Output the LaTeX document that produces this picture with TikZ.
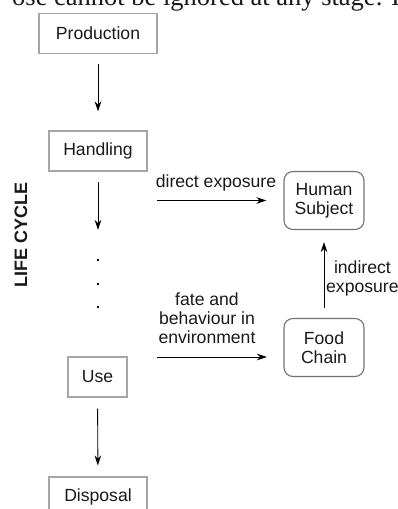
\documentclass[tikz,border=0pt]{standalone}
\usepackage{fontspec}
\setmainfont{Liberation Sans}
\newfontfamily\bodyserif{Liberation Serif}
\usepackage{tikz}
\usetikzlibrary{arrows.meta, positioning}
\tikzset{>={Stealth[length=10pt,width=6.5pt]}}

\begin{document}
\begin{tikzpicture}[x=1pt, y=-1pt,
  every node/.style={font=\fontsize{17.6}{19}\selectfont, text=black!90},
  stagebox/.style={draw=gray!70, line width=1.1pt, minimum height=40pt, inner sep=0pt},
  target/.style={draw=gray!90!black, line width=1.1pt, rounded corners=9pt,
    minimum width=80pt, minimum height=58pt, align=center, inner sep=0pt},
  lbl/.style={align=center, inner sep=0pt},
  flow/.style={->, line width=0.9pt}]

  \useasboundingbox (0,0) rectangle (398,509);
  \clip (0,0) rectangle (398,509);

  % cut-off line of the page above
  \node[font=\bodyserif\fontsize{26.5}{26.5}\selectfont, anchor=base west, inner sep=0pt]
    (pagetext) at (12,5.5) {ose cannot be ignored at any stage. I};

  % life cycle stages
  \node[stagebox, minimum width=118pt] (prod) at (98,33.5) {Production};
  \node[stagebox, minimum width=98pt] (hand) at (98,151) {Handling};
  \node[stagebox, minimum width=59pt] (use) at (97.5,377) {Use};
  \node[stagebox, minimum width=98pt] (disp) at (98,497) {Disposal};

  \draw[flow, shorten <=10pt, shorten >=19pt] (prod) -- (hand);
  \coordinate (gap) at (98,230);
  \draw[flow, shorten <=10pt] (hand) -- (gap);
  \foreach \y in {260,284,307}
  {\fill (98,\y) circle (1.4pt);
  }
  \draw[flow, shorten <=11pt, shorten >=11pt] (use) -- (disp);

  \node[font=\fontsize{18}{18}\selectfont\bfseries, rotate=90, inner sep=0pt] (life) at (21,235) {LIFE CYCLE};

  % exposure
  \node[target] (human) at (324,200.5) {Human\\Subject};
  \node[target] (food) at (324,347.5) {Food\\Chain};

  \coordinate (de) at (157,200.5);
  \draw[flow, shorten >=17pt] (de) -- (human.west);
  \node[lbl, anchor=base] (dlbl) at (216,187) {direct exposure};

  \coordinate (fe) at (157,357);
  \coordinate (fe end) at (267,357);
  \draw[flow] (fe) -- (fe end);
  \node[lbl] (flbl) at (207,318) {fate and\\behaviour in\\environment};

  \draw[flow, shorten <=10pt, shorten >=12pt] (food) -- (human);
  \node[lbl, anchor=west] (ilbl) at (326,278) {indirect\\exposure};
\end{tikzpicture}
\end{document}
